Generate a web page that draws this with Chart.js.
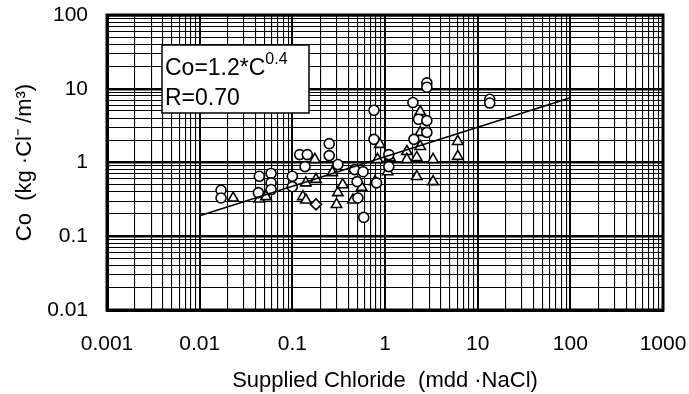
<!DOCTYPE html>
<html>
<head>
<meta charset="utf-8">
<script src="https://cdn.jsdelivr.net/npm/chart.js@4/dist/chart.umd.min.js"></script>
<style>
  html, body { margin: 0; padding: 0; background: #fff; }
  #wrap { width: 689px; height: 394px; }
</style>
</head>
<body>
<div id="wrap"><canvas id="chloride-chart"></canvas></div>
<script>
// tick labels (decades only, the rest of the grid is unlabelled)
const xTickLabels = ['0.001', '0.01', '0.1', '1', '10', '100', '1000'];
const yTickLabels = ['0.01', '0.1', '1', '10', '100'];

// circles
const circleX = [0.017, 0.017, 0.044, 0.043, 0.059, 0.059, 0.059, 0.10, 0.10, 0.12, 0.145, 0.137, 0.25, 0.25, 0.31,
  0.47, 0.58, 0.50, 0.51, 0.59, 0.76, 0.76, 0.81, 1.1, 1.1, 2.0, 2.05, 2.3, 2.83, 2.83, 2.83, 2.83, 13.5, 13.5];
const circleY = [0.42, 0.33, 0.65, 0.39, 0.71, 0.53, 0.43, 0.65, 0.47, 1.28, 1.28, 0.88, 1.8, 1.24, 0.94,
  0.80, 0.75, 0.55, 0.33, 0.18, 2.06, 5.1, 0.53, 1.28, 0.88, 6.5, 2.06, 3.85, 3.7, 2.56, 12, 10.5, 7.2, 6.4];

// triangles
const triangleX = [0.023, 0.044, 0.052, 0.13, 0.14, 0.14, 0.175, 0.18, 0.27, 0.31, 0.30, 0.35, 0.45, 0.56, 0.78,
  0.83, 0.88, 1.07, 1.13, 1.72, 1.72, 2.2, 2.2, 2.4, 2.4, 2.4, 3.3, 3.3, 6.1, 6.1];
const triangleY = [0.33, 0.32, 0.345, 0.345, 0.31, 0.53, 1.1, 0.59, 0.73, 0.39, 0.27, 0.50, 0.31, 0.46, 0.55,
  1.1, 1.76, 0.75, 1.17, 1.41, 1.1, 1.17, 0.645, 4.9, 2.56, 1.65, 1.1, 0.55, 1.93, 1.21];

// diamonds
const diamondX = [0.18];
const diamondY = [0.27];

// regression line Co = 1.2*C^0.4
const fitX = [0.01, 100];
const fitY = [0.19, 7.57];

const FONT = '"Liberation Sans", Arial, sans-serif';

const pts = (xs, ys) => xs.map((x, i) => ({ x: x, y: ys[i] }));

// every 1..9 step inside each decade, so the grid gets all the minor lines
function logGrid(lo, hi) {
  const out = [];
  for (let e = Math.round(Math.log10(lo)); e < Math.round(Math.log10(hi)); e++) {
    for (let m = 1; m < 10; m++) out.push(+(m * Math.pow(10, e)).toPrecision(3));
  }
  out.push(hi);
  return out;
}
const isDecade = v => Math.abs(Math.log10(v) - Math.round(Math.log10(v))) < 1e-6;
const labelFor = (list, v) => list.find(t => Math.abs(Math.log10(+t) - Math.log10(v)) < 1e-6) || '';

const framePlugin = {
  id: 'frame',
  afterDatasetsDraw(chart) {
    const { ctx, chartArea: a } = chart;
    ctx.save();
    ctx.strokeStyle = '#000';
    ctx.lineWidth = 3;
    ctx.strokeRect(a.left, a.top, a.right - a.left, a.bottom - a.top);

    // equation box
    const bx = a.left + 55, by = a.top + 30, bw = 147, bh = 68;
    ctx.fillStyle = '#fff';
    ctx.fillRect(bx, by, bw, bh);
    ctx.lineWidth = 1.5;
    ctx.strokeRect(bx, by, bw, bh);
    ctx.fillStyle = '#000';
    ctx.textBaseline = 'alphabetic';
    ctx.textAlign = 'left';
    ctx.font = '23px ' + FONT;
    ctx.fillText('Co=1.2*C', bx + 3, by + 30);
    const w = ctx.measureText('Co=1.2*C').width;
    ctx.fillText('R=0.70', bx + 3, by + 60);
    ctx.font = '16px ' + FONT;
    ctx.fillText('0.4', bx + 3 + w, by + 19);
    ctx.restore();
  }
};

new Chart(document.getElementById('chloride-chart'), {
  type: 'scatter',
  data: {
    datasets: [
      {
        type: 'line',
        data: pts(fitX, fitY),
        borderColor: '#000',
        borderWidth: 1.6,
        pointRadius: 0,
        fill: false
      },
      {
        data: pts(circleX, circleY),
        pointStyle: 'circle',
        pointRadius: 5,
        backgroundColor: '#fff',
        borderColor: '#000',
        borderWidth: 1.6
      },
      {
        data: pts(triangleX, triangleY),
        pointStyle: 'triangle',
        pointRadius: 6,
        backgroundColor: '#fff',
        borderColor: '#000',
        borderWidth: 1.6
      },
      {
        data: pts(diamondX, diamondY),
        pointStyle: 'rectRot',
        pointRadius: 5.5,
        backgroundColor: '#fff',
        borderColor: '#000',
        borderWidth: 1.6
      }
    ]
  },
  options: {
    responsive: true,
    maintainAspectRatio: false,
    animation: false,
    layout: { padding: { top: 15, right: 26, left: 0, bottom: 0 } },
    plugins: {
      legend: { display: false },
      tooltip: { enabled: false }
    },
    scales: {
      x: {
        type: 'logarithmic',
        min: 0.001,
        max: 1000,
        afterBuildTicks: s => { s.ticks = logGrid(0.001, 1000).map(v => ({ value: v })); },
        afterFit: s => { s.height = 84; s.paddingLeft = 0; s.paddingRight = 0; },
        ticks: {
          autoSkip: false,
          maxRotation: 0,
          padding: 22,
          color: '#000',
          font: { family: FONT, size: 21 },
          callback: v => labelFor(xTickLabels, v)
        },
        grid: {
          color: '#000',
          drawTicks: false,
          lineWidth: c => (c.tick && isDecade(c.tick.value) ? 2 : 1.1)
        },
        border: { display: true, color: '#000', width: 3 },
        title: {
          display: true,
          text: 'Supplied Chloride  (mdd \u00B7NaCl)',
          color: '#000',
          font: { family: FONT, size: 22 },
          padding: 0
        }
      },
      y: {
        type: 'logarithmic',
        min: 0.01,
        max: 100,
        afterBuildTicks: s => { s.ticks = logGrid(0.01, 100).map(v => ({ value: v })); },
        afterFit: s => { s.width = 107; s.paddingTop = 0; s.paddingBottom = 0; },
        ticks: {
          autoSkip: false,
          padding: 19,
          color: '#000',
          font: { family: FONT, size: 21 },
          callback: v => labelFor(yTickLabels, v)
        },
        grid: {
          color: '#000',
          drawTicks: false,
          lineWidth: c => (c.tick && isDecade(c.tick.value) ? 2.5 : 1.1)
        },
        border: { display: true, color: '#000', width: 3 },
        title: {
          display: true,
          text: 'Co  (kg \u00B7Cl\u207B /m\u00B3)',
          color: '#000',
          font: { family: FONT, size: 22 },
          padding: { top: 12, bottom: 0 }
        }
      }
    }
  },
  plugins: [framePlugin]
});
</script>
</body>
</html>
